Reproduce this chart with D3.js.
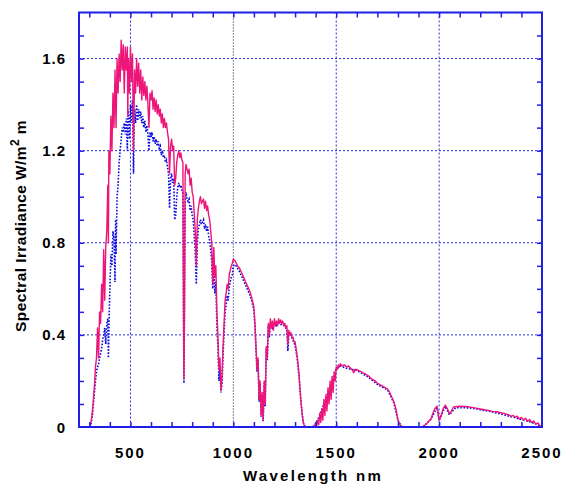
<!DOCTYPE html>
<html><head><meta charset="utf-8">
<script src="https://cdn.jsdelivr.net/npm/d3@7"></script>
<style>body{margin:0;background:#fff}svg{display:block}</style>
</head><body>
<svg id="c" width="563" height="485"></svg>
<script>
// ---- data (wavelength nm, spectral irradiance) ----
const xTickLabels = [500, 1000, 1500, 2000, 2500];
const yTickLabels = [0, 0.4, 0.8, 1.2, 1.6];
const xGrid = [500, 1000, 1500, 2000];
const yGrid = [0.4, 0.8, 1.2, 1.6];

const globalWl = [295,300,305,310,315,320,325,330,335,340,345,350,355,360,365,370,375,380,385,390,393,395,400,405,410,415,420,425,430,435,440,445,450,455,460,465,470,475,480,485,487,490,495,500,505,510,515,520,525,530,535,540,545,550,555,560,565,570,575,580,585,590,595,600,605,610,615,620,625,630,635,640,645,650,655,660,665,670,675,680,685,690,695,700,705,710,715,720,725,730,735,740,745,750,755,758,760,763,766,770,775,780,785,790,795,800,805,810,815,820,825,830,835,840,845,850,855,860,865,870,875,880,885,890,895,900,905,910,915,920,925,930,935,940,945,950,955,960,965,970,975,980,985,990,995,1000,1010,1020,1030,1040,1050,1060,1070,1080,1090,1100,1105,1110,1115,1120,1125,1130,1135,1140,1145,1150,1155,1160,1165,1170,1175,1180,1185,1190,1195,1200,1205,1210,1215,1220,1225,1230,1235,1240,1245,1250,1255,1260,1265,1270,1275,1280,1285,1290,1295,1300,1305,1310,1315,1320,1325,1330,1335,1340,1345,1350,1380,1390,1395,1400,1405,1410,1415,1420,1425,1430,1435,1440,1445,1450,1455,1460,1465,1470,1475,1480,1485,1490,1495,1500,1505,1510,1515,1520,1530,1540,1550,1560,1570,1580,1585,1590,1600,1610,1620,1630,1640,1650,1660,1670,1680,1690,1700,1710,1720,1730,1740,1750,1760,1770,1780,1790,1800,1810,1820,1920,1940,1960,1970,1980,1990,2000,2010,2020,2030,2040,2050,2060,2070,2080,2100,2120,2140,2160,2180,2200,2220,2240,2260,2280,2300,2320,2340,2350,2360,2370,2380,2390,2400,2410,2420,2430,2440,2450,2460,2470,2480,2490,2500];
const globalVal = [0,0,0.01,0.03,0.07,0.12,0.18,0.26,0.3,0.43,0.3,0.5,0.45,0.62,0.5,0.77,0.55,0.78,0.85,1.05,0.8,1.2,1.1,1.35,1.2,1.45,1.3,1.55,1.3,1.6,1.45,1.62,1.5,1.68,1.55,1.66,1.45,1.65,1.55,1.65,1.35,1.6,1.45,1.65,1.5,1.62,1.2,1.55,1.45,1.6,1.48,1.58,1.45,1.55,1.42,1.52,1.44,1.5,1.42,1.48,1.4,1.3,1.45,1.42,1.46,1.38,1.43,1.37,1.42,1.36,1.4,1.35,1.38,1.32,1.36,1.3,1.34,1.3,1.32,1.28,1.25,1.1,1.22,1.25,1.2,1.22,1.05,1.08,1.15,1.18,1.2,1.17,1.19,1.16,1.15,0.5,0.21,0.6,1.1,1.14,1.12,1.1,1.12,1.05,1.08,1.02,1.0,0.93,0.85,0.7,0.9,0.95,0.98,1.0,0.97,0.98,0.99,0.95,0.98,0.94,0.96,0.92,0.9,0.85,0.8,0.62,0.78,0.65,0.7,0.5,0.4,0.25,0.3,0.16,0.22,0.35,0.45,0.55,0.58,0.62,0.6,0.66,0.68,0.7,0.71,0.73,0.72,0.7,0.69,0.67,0.65,0.63,0.61,0.59,0.56,0.52,0.45,0.35,0.25,0.3,0.12,0.2,0.05,0.15,0.03,0.2,0.1,0.35,0.3,0.45,0.4,0.47,0.43,0.46,0.42,0.47,0.44,0.46,0.44,0.47,0.45,0.465,0.45,0.46,0.44,0.45,0.43,0.44,0.36,0.42,0.4,0.41,0.39,0.39,0.37,0.37,0.34,0.31,0.27,0.22,0.15,0.1,0.05,0.02,0.005,0,0,0.005,0,0.02,0.005,0.03,0.01,0.06,0.02,0.08,0.03,0.12,0.05,0.14,0.07,0.17,0.1,0.2,0.12,0.22,0.15,0.24,0.2,0.26,0.25,0.27,0.26,0.275,0.265,0.27,0.26,0.265,0.255,0.245,0.235,0.25,0.25,0.245,0.24,0.235,0.232,0.225,0.22,0.21,0.205,0.2,0.19,0.185,0.18,0.175,0.17,0.165,0.15,0.13,0.11,0.08,0.03,0.01,0,0,0.015,0.035,0.06,0.08,0.09,0.03,0.05,0.08,0.095,0.08,0.056,0.07,0.087,0.088,0.09,0.089,0.088,0.085,0.082,0.078,0.075,0.072,0.068,0.066,0.062,0.058,0.052,0.046,0.05,0.042,0.047,0.035,0.042,0.03,0.038,0.025,0.033,0.02,0.026,0.012,0.018,0.005,0.002];

const directWl = [300,305,310,315,320,325,330,335,340,345,350,355,360,365,370,375,380,385,390,393,397,400,405,410,415,420,425,428,430,435,440,445,450,455,460,465,470,475,480,485,488,490,495,500,505,510,515,518,520,525,530,535,540,545,550,555,560,565,570,575,580,585,590,595,600,605,610,615,620,625,630,635,640,645,650,655,660,665,670,675,680,685,690,695,700,705,710,715,720,725,730,735,740,745,750,755,758,760,763,766,770,775,780,785,790,795,800,805,810,815,820,825,830,835,840,845,850,855,860,865,870,875,880,885,890,895,900,905,910,915,920,925,930,935,940,945,950,955,960,965,970,975,980,985,990,995,1000,1010,1020,1030,1040,1050,1060,1070,1080,1090,1100,1105,1110,1115,1120,1125,1130,1135,1140,1145,1150,1155,1160,1165,1170,1175,1180,1190,1200,1210,1220,1230,1240,1250,1260,1265,1270,1280,1290,1300,1310,1320,1330,1340,1350,1390,1400,1420,1440,1460,1480,1500,1520,1550,1600,1650,1700,1750,1780,1800,1820,1920,1960,1990,2000,2030,2050,2080,2150,2250,2350,2450,2500];
const directVal = [0,0.005,0.02,0.05,0.1,0.15,0.2,0.24,0.26,0.27,0.3,0.32,0.34,0.38,0.4,0.43,0.36,0.45,0.47,0.3,0.5,0.6,0.75,0.7,0.85,0.82,0.63,0.9,0.75,1.0,1.05,1.15,1.2,1.25,1.3,1.28,1.32,1.27,1.34,1.2,1.38,1.35,1.25,1.4,1.32,1.42,1.1,1.35,1.38,1.32,1.4,1.33,1.38,1.34,1.37,1.32,1.35,1.3,1.33,1.28,1.31,1.27,1.2,1.28,1.26,1.28,1.24,1.26,1.23,1.25,1.22,1.24,1.21,1.22,1.18,1.2,1.17,1.18,1.15,1.16,1.13,1.1,0.95,1.08,1.1,1.06,1.08,0.9,0.92,1.0,1.04,1.06,1.04,1.05,1.03,1.02,0.45,0.19,0.55,0.98,1.02,0.99,0.98,0.99,0.94,0.96,0.92,0.9,0.83,0.76,0.62,0.8,0.86,0.88,0.9,0.88,0.89,0.9,0.86,0.88,0.85,0.87,0.83,0.81,0.77,0.72,0.6,0.7,0.58,0.63,0.44,0.35,0.2,0.26,0.15,0.19,0.31,0.41,0.5,0.53,0.57,0.55,0.61,0.63,0.65,0.66,0.7,0.705,0.69,0.675,0.655,0.635,0.615,0.595,0.575,0.545,0.505,0.44,0.34,0.24,0.29,0.11,0.19,0.045,0.14,0.025,0.19,0.09,0.34,0.29,0.44,0.39,0.455,0.43,0.455,0.435,0.455,0.445,0.445,0.435,0.425,0.33,0.4,0.4,0.375,0.355,0.3,0.21,0.095,0.018,0,0,0.015,0.05,0.1,0.15,0.2,0.25,0.265,0.255,0.245,0.22,0.185,0.16,0.105,0.028,0,0,0.033,0.085,0.028,0.09,0.053,0.084,0.083,0.067,0.045,0.02,0.002];

// ---- layout ----
const svg = d3.select("#c");
const M = {left:79, right:542, top:12.5, bottom:427};
const x = d3.scaleLinear().domain([250, 2500]).range([M.left, M.right]);
const y = d3.scaleLinear().domain([0, 1.8]).range([M.bottom, M.top]);
const AX = "#1f1fe6";
const FONT = "Liberation Sans, Arial, sans-serif";

// grid
svg.append("g").selectAll("line").data(yGrid).join("line")
  .attr("x1", M.left).attr("x2", M.right)
  .attr("y1", d => y(d)).attr("y2", d => y(d))
  .attr("stroke", "#2a2ae8").attr("stroke-width", 1).attr("stroke-dasharray", "2,2");
svg.append("g").selectAll("line").data(xGrid).join("line")
  .attr("y1", M.top).attr("y2", M.bottom)
  .attr("x1", d => x(d)).attr("x2", d => x(d))
  .attr("stroke", d => d === 1000 ? "#000050" : "#2a2ae8").attr("stroke-width", 1)
  .attr("stroke-dasharray", d => d === 1000 ? "1,2" : "2,2");

// series
const line = d3.line().x(d => x(d[0])).y(d => y(d[1]));
const direct = directWl.map((w, i) => [w, directVal[i]]);
const global = globalWl.map((w, i) => [w, globalVal[i]]);
svg.append("path").datum(direct).attr("d", line)
  .attr("fill", "none").attr("stroke", "#0a0ae0").attr("stroke-width", 1.6)
  .attr("stroke-dasharray", "1.6,1.6");
svg.append("path").datum(global).attr("d", line)
  .attr("fill", "none").attr("stroke", "#ee1578").attr("stroke-width", 1.4)
  .attr("stroke-linejoin", "round");

// axes (ticks inward)
const tickLen = 5;
const xMinor = d3.range(300, 2500, 100);
const yMinor = d3.range(1, 18).map(i => i / 10);
const xb = d3.axisBottom(x).tickValues(xMinor).tickSize(-tickLen).tickFormat("");
const xt = d3.axisTop(x).tickValues(xMinor).tickSize(-tickLen).tickFormat("");
const yl = d3.axisLeft(y).tickValues(yMinor).tickSize(-tickLen).tickFormat("");
const yr = d3.axisRight(y).tickValues(yMinor).tickSize(-tickLen).tickFormat("");
[[xb, `translate(0,${M.bottom})`], [xt, `translate(0,${M.top})`],
 [yl, `translate(${M.left},0)`], [yr, `translate(${M.right},0)`]].forEach(([a, t]) => {
  const g = svg.append("g").attr("transform", t).call(a);
  g.select(".domain").remove();
  g.selectAll("line").attr("stroke", AX).attr("stroke-width", 1.5);
});
svg.append("rect").attr("x", M.left).attr("y", M.top)
  .attr("width", M.right - M.left).attr("height", M.bottom - M.top)
  .attr("fill", "none").attr("stroke", AX).attr("stroke-width", 2);

// tick labels
svg.append("g").selectAll("text").data(xTickLabels).join("text")
  .attr("x", d => x(d)).attr("y", 458).attr("text-anchor", "middle")
  .attr("font-family", FONT).attr("font-weight", "bold").attr("font-size", 15)
  .attr("letter-spacing", 2).text(d => d);
svg.append("g").selectAll("text").data(yTickLabels).join("text")
  .attr("x", 66).attr("y", d => y(d) + 5.5).attr("text-anchor", "end")
  .attr("font-family", FONT).attr("font-weight", "bold").attr("font-size", 15)
  .attr("letter-spacing", 1).text(d => d === 0 ? "0" : d3.format(".1f")(d));

// axis titles
svg.append("text").attr("x", 313).attr("y", 481).attr("text-anchor", "middle")
  .attr("font-family", FONT).attr("font-weight", "bold").attr("font-size", 15)
  .attr("letter-spacing", 2.3).text("Wavelength nm");
const yt = svg.append("text").attr("transform", "translate(26,226) rotate(-90)")
  .attr("text-anchor", "middle").attr("font-family", FONT)
  .attr("font-weight", "bold").attr("font-size", 15.5).attr("letter-spacing", 0.4);
yt.append("tspan").text("Spectral Irradiance W/m");
yt.append("tspan").attr("dy", -7).attr("font-size", 12).text("2");
yt.append("tspan").attr("dy", 7).text(" m");
</script>
</body></html>
